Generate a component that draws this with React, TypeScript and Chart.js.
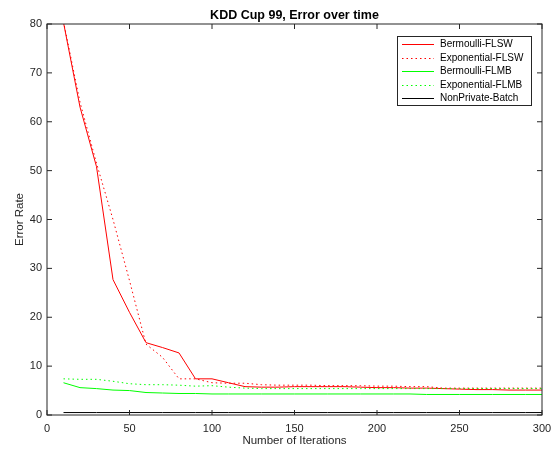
import React, { useEffect, useRef } from "react";
import { Chart, registerables } from "chart.js";

Chart.register(...registerables);

const iterations = [10, 20, 30, 40, 50, 60, 70, 80, 90, 100, 110, 120, 130, 140, 150, 160, 170, 180, 190, 200, 210, 220, 230, 240, 250, 260, 270, 280, 290, 300];

const bernoulliFLSW = [80.3, 63, 50.8, 27.7, 21, 14.8, 13.8, 12.7, 7.4, 7.4, 6.6, 5.8, 5.7, 5.7, 5.8, 5.8, 5.8, 5.8, 5.7, 5.6, 5.6, 5.5, 5.5, 5.4, 5.3, 5.2, 5.2, 5.1, 5.1, 5.1];
const exponentialFLSW = [80.5, 64, 51.5, 40, 27.5, 14.5, 11.8, 7.4, 7.4, 6.6, 6.5, 6.5, 6.2, 6.1, 6.1, 6.1, 6.0, 6.0, 6.0, 5.9, 5.9, 5.8, 5.8, 5.5, 5.5, 5.5, 5.5, 5.5, 5.5, 5.5];
const bernoulliFLMB = [6.6, 5.6, 5.4, 5.1, 5.0, 4.6, 4.5, 4.4, 4.4, 4.3, 4.3, 4.3, 4.3, 4.3, 4.3, 4.3, 4.3, 4.3, 4.3, 4.3, 4.3, 4.3, 4.2, 4.2, 4.2, 4.2, 4.2, 4.2, 4.2, 4.2];
const exponentialFLMB = [7.4, 7.3, 7.3, 6.9, 6.4, 6.2, 6.2, 6.1, 5.9, 6.0, 5.7, 5.5, 5.4, 5.4, 5.4, 5.4, 5.4, 5.4, 5.4, 5.4, 5.4, 5.4, 5.4, 5.4, 5.4, 5.4, 5.4, 5.4, 5.4, 5.4];
const nonPrivateBatch = [0.5, 0.5, 0.5, 0.5, 0.5, 0.5, 0.5, 0.5, 0.5, 0.5, 0.5, 0.5, 0.5, 0.5, 0.5, 0.5, 0.5, 0.5, 0.5, 0.5, 0.5, 0.5, 0.5, 0.5, 0.5, 0.5, 0.5, 0.5, 0.5, 0.5];

const xTicks = [0, 50, 100, 150, 200, 250, 300];
const yTicks = [0, 10, 20, 30, 40, 50, 60, 70, 80];

const seriesNames = ["Bermoulli-FLSW", "Exponential-FLSW", "Bermoulli-FLMB", "Exponential-FLMB", "NonPrivate-Batch"];
const seriesColors = ["#ff0000", "#ff0000", "#00ff00", "#00ff00", "#000000"];
const seriesDotted = [false, true, false, true, false];
const seriesValues = [bernoulliFLSW, exponentialFLSW, bernoulliFLMB, exponentialFLMB, nonPrivateBatch];

const FONT = "'Liberation Sans', Arial, Helvetica, sans-serif";
const AXIS_COLOR = "#262626";
const DOT = [1.5, 3];

const framePlugin = {
  id: "matlabFrame",
  afterDraw(chart: any) {
    const ctx = chart.ctx as CanvasRenderingContext2D;
    const { left, right, top, bottom } = chart.chartArea;
    const xs = chart.scales.x;
    const ys = chart.scales.y;
    ctx.save();
    ctx.strokeStyle = AXIS_COLOR;
    ctx.lineWidth = 1;
    ctx.strokeRect(left, top, right - left, bottom - top);
    const tl = 5;
    ctx.beginPath();
    xTicks.forEach((v) => {
      const px = xs.getPixelForValue(v);
      ctx.moveTo(px, bottom);
      ctx.lineTo(px, bottom - tl);
      ctx.moveTo(px, top);
      ctx.lineTo(px, top + tl);
    });
    yTicks.forEach((v) => {
      const py = ys.getPixelForValue(v);
      ctx.moveTo(left, py);
      ctx.lineTo(left + tl, py);
      ctx.moveTo(right, py);
      ctx.lineTo(right - tl, py);
    });
    ctx.stroke();

    // title
    ctx.fillStyle = "#000";
    ctx.font = `bold 12.5px ${FONT}`;
    ctx.textAlign = "center";
    ctx.textBaseline = "alphabetic";
    ctx.fillText("KDD Cup 99, Error over time", (left + right) / 2, 18.5);

    // legend
    const lx = 397, ly = 36, lw = 134, lh = 69;
    ctx.fillStyle = "#fff";
    ctx.fillRect(lx, ly, lw, lh);
    ctx.strokeStyle = AXIS_COLOR;
    ctx.strokeRect(lx + 0.5, ly + 0.5, lw, lh);
    ctx.font = `10px ${FONT}`;
    ctx.textAlign = "left";
    ctx.textBaseline = "middle";
    seriesNames.forEach((name, i) => {
      const y = ly + 8 + i * 13.5;
      ctx.beginPath();
      ctx.strokeStyle = seriesColors[i];
      ctx.lineWidth = 1;
      ctx.setLineDash(seriesDotted[i] ? DOT : []);
      ctx.moveTo(lx + 5, Math.round(y) + 0.5);
      ctx.lineTo(lx + 37, Math.round(y) + 0.5);
      ctx.stroke();
      ctx.setLineDash([]);
      ctx.fillStyle = "#000";
      ctx.fillText(name, lx + 43, y + 0.5);
    });
    ctx.restore();
  },
};

export default function App() {
  const ref = useRef<HTMLCanvasElement | null>(null);
  useEffect(() => {
    if (!ref.current) return;
    const datasets = seriesNames.map((name, i) => ({
      label: name,
      data: iterations.map((x, j) => ({ x, y: seriesValues[i][j] })),
      borderColor: seriesColors[i],
      backgroundColor: seriesColors[i],
      borderWidth: 1,
      borderDash: seriesDotted[i] ? DOT : [],
      pointRadius: 0,
      tension: 0,
      fill: false,
    }));
    const chart = new Chart(ref.current, {
      type: "line",
      data: { datasets: [...datasets].reverse() as any },
      options: {
        animation: false,
        responsive: false,
        devicePixelRatio: 1,
        layout: { padding: { top: 24, right: 11, left: 0, bottom: 0 } },
        plugins: { legend: { display: false }, title: { display: false }, tooltip: { enabled: false } },
        scales: {
          x: {
            type: "linear",
            min: 0,
            max: 300,
            grid: { display: false, drawTicks: false },
            border: { display: false },
            ticks: { stepSize: 50, padding: 7, color: AXIS_COLOR, font: { family: FONT, size: 11 }, maxRotation: 0 },
            title: { display: true, text: "Number of Iterations", color: AXIS_COLOR, font: { family: FONT, size: 11.5 }, padding: { top: 2, bottom: 1 } },
            afterFit: (s: any) => { s.height = 34; s.paddingLeft = 0; s.paddingRight = 0; },
          },
          y: {
            type: "linear",
            min: 0,
            max: 80,
            grid: { display: false, drawTicks: false },
            border: { display: false },
            ticks: { stepSize: 10, padding: 5, color: AXIS_COLOR, font: { family: FONT, size: 11 } },
            title: { display: true, text: "Error Rate", color: AXIS_COLOR, font: { family: FONT, size: 11.5 }, padding: { top: 13, bottom: 0 } },
            afterFit: (s: any) => { s.width = 47; s.paddingTop = 0; s.paddingBottom = 0; },
          },
        },
      },
      plugins: [framePlugin],
    });
    return () => chart.destroy();
  }, []);
  return (
    <div style={{ position: "absolute", left: 0, top: 0, width: 553, height: 449, background: "#fff" }}>
      <canvas ref={ref} width={553} height={449} />
    </div>
  );
}
